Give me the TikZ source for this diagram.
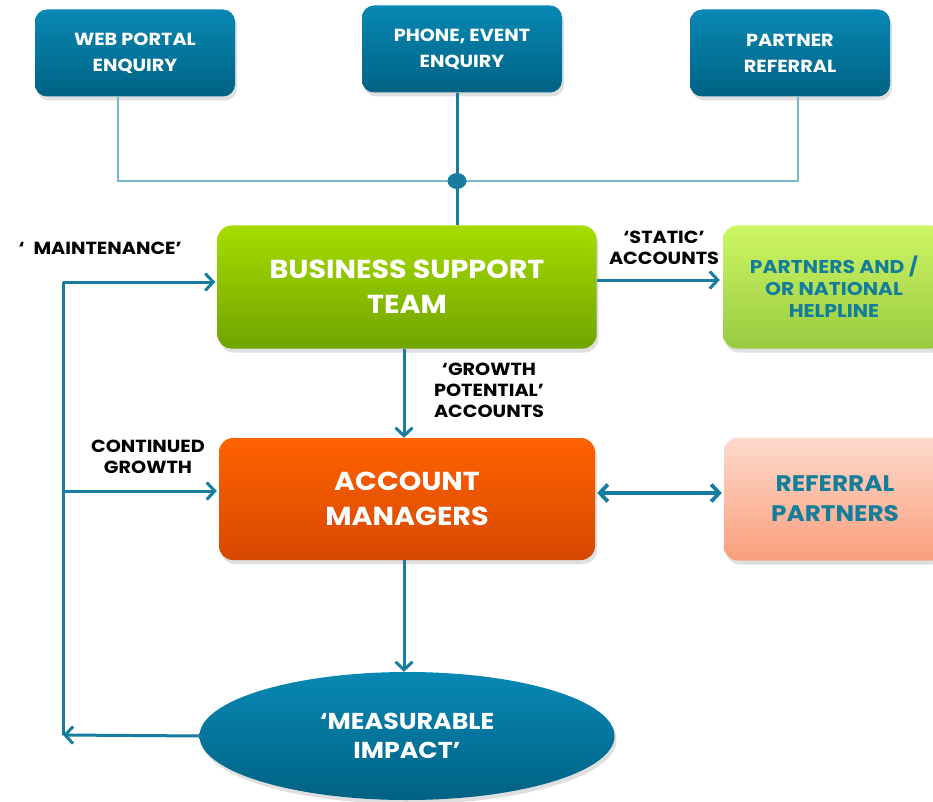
\documentclass[tikz,border=0pt]{standalone}
\usepackage{fontspec}
\setmainfont{Poppins}[FakeStretch=1.1]
\usetikzlibrary{positioning}
\usetikzlibrary{arrows.meta}
\usetikzlibrary{shapes.geometric}
\usetikzlibrary{shadows}

\definecolor{tealtop}{RGB}{8,136,180}
\definecolor{tealbot}{RGB}{0,98,132}
\definecolor{linkteal}{RGB}{22,124,160}
\definecolor{lightlink}{RGB}{120,184,204}
\definecolor{greentop}{RGB}{166,220,0}
\definecolor{greenbot}{RGB}{112,164,0}
\definecolor{limetop}{RGB}{206,246,100}
\definecolor{limebot}{RGB}{152,202,64}
\definecolor{orangetop}{RGB}{255,98,0}
\definecolor{orangebot}{RGB}{214,72,0}
\definecolor{salmontop}{RGB}{253,218,204}
\definecolor{salmonbot}{RGB}{249,158,124}
\definecolor{helptext}{RGB}{20,126,154}

\begin{document}
\begin{tikzpicture}[x=1pt, y=-1pt,
		source/.style={rectangle, rounded corners=12pt, minimum width=200pt, minimum height=87pt, align=center,
			top color=tealtop, bottom color=tealbot, text=white,
			font=\bfseries\fontsize{17.5}{26}\selectfont,
			drop shadow={opacity=0.25, shadow xshift=2pt, shadow yshift=-4pt}},
		team/.style={rectangle, rounded corners=14pt, minimum height=123pt, align=center, text=white,
			font=\bfseries\fontsize{26}{35}\selectfont,
			drop shadow={opacity=0.25, shadow xshift=2pt, shadow yshift=-4pt}},
		outlet/.style={rectangle, rounded corners=14pt, minimum width=222pt, minimum height=123pt, align=center,
			text=helptext, drop shadow={opacity=0.25, shadow xshift=2pt, shadow yshift=-4pt}},
		note/.style={align=center, font=\bfseries\fontsize{17.5}{21}\selectfont},
		arrow/.style={draw=linkteal, line width=3pt, -{Straight Barb[length=8pt, width=17pt]}},
		feed/.style={draw=lightlink, line width=1.6pt}
		]
		\useasboundingbox (0,0) rectangle (933,802);

		% Nodes
		\node[source] (web) at (135,53) {WEB PORTAL\\ENQUIRY};
		\node[source] (phone) at (462,49) {PHONE, EVENT\\ENQUIRY};
		\node[source] (partner) at (790,53) {PARTNER\\REFERRAL};

		\node[team, minimum width=379pt, top color=greentop, bottom color=greenbot] (bst) at (407,287) {BUSINESS SUPPORT\\TEAM};
		\node[team, minimum width=376pt, minimum height=122pt, top color=orangetop, bottom color=orangebot] (am) at (407,499) {ACCOUNT\\MANAGERS};
		\node[ellipse, minimum width=415pt, minimum height=128pt, align=center, text=white,
			top color=tealtop, bottom color=tealbot,
			font=\bfseries\fontsize{23}{29}\selectfont,
			drop shadow={opacity=0.25, shadow xshift=2pt, shadow yshift=-4pt}] (impact) at (407,736) {‘MEASURABLE\\IMPACT’};

		% Output
		\node[outlet, top color=limetop, bottom color=limebot, font=\bfseries\fontsize{18.5}{22}\selectfont] (help) at (834,287) {PARTNERS AND /\\OR NATIONAL\\HELPLINE};
		\node[outlet, top color=salmontop, bottom color=salmonbot, font=\bfseries\fontsize{22.5}{30}\selectfont] (refer) at (835,499) {REFERRAL\\PARTNERS};

		% Labels
		\node[note, anchor=west] (maint) at (15,248) {‘\hspace{9pt}MAINTENANCE’};
		\node[note] (static) at (664,248) {‘STATIC’\\ACCOUNTS};
		\node[note] (growth) at (489,390) {‘GROWTH\\POTENTIAL’\\ACCOUNTS};
		\node[note] (cont) at (148,457) {CONTINUED\\GROWTH};

		% Enquiry lines
		\coordinate (hub) at (457,181);
		\draw[feed] ([xshift=-17pt]web.south) |- (hub) -| ([xshift=8pt]partner.south);
		\draw[draw=linkteal, line width=3pt] ([xshift=-5pt]phone.south) -- (hub) -- (hub |- bst.north);
		\fill[linkteal] (hub) ellipse (9.5pt and 8pt);

		% Loop back
		\coordinate (loopTop) at (63,282);
		\coordinate (loopMid) at (63,491);
		\coordinate (loopBot) at (63,735);
		\draw[arrow] ([xshift=3pt]impact.west) -- (loopBot);
		\draw[draw=linkteal, line width=3pt] (loopBot) -- (loopTop);
		\draw[arrow] (loopTop) -- ([xshift=-2pt]bst.west |- loopTop);
		\draw[arrow] (loopMid) -- ([xshift=-2pt]am.west |- loopMid);

		% Arrows
		\draw[arrow] ([yshift=7pt]bst.east) -- ([yshift=7pt, xshift=-3pt]help.west);
		\draw[arrow] ([xshift=-3pt]bst.south) -- ([xshift=-3pt]am.north);
		\draw[arrow] ([xshift=-3pt]am.south) -- ([xshift=-3pt]impact.north);
		\draw[arrow, line width=3.8pt, {Straight Barb[length=8pt, width=17pt]}-{Straight Barb[length=8pt, width=17pt]}]
			([yshift=6pt, xshift=2pt]am.east) -- ([yshift=6pt, xshift=-2pt]refer.west);
	\end{tikzpicture}
\end{document}
